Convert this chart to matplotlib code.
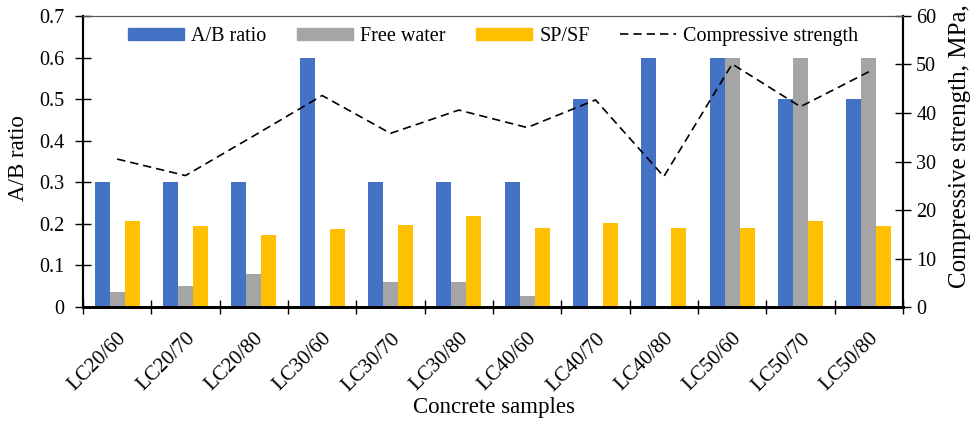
import numpy as np
import matplotlib.pyplot as plt
from matplotlib.lines import Line2D
from matplotlib.patches import Patch

plt.rcParams['font.family'] = ['Liberation Serif', 'DejaVu Serif']

# valeurs
echantillons = ["LC20/60", "LC20/70", "LC20/80", "LC30/60", "LC30/70", "LC30/80",
                "LC40/60", "LC40/70", "LC40/80", "LC50/60", "LC50/70", "LC50/80"]
ratio_ab = [0.3, 0.3, 0.3, 0.6, 0.3, 0.3, 0.3, 0.5, 0.6, 0.6, 0.5, 0.5]
eau_libre = [0.037, 0.051, 0.079, 0.0, 0.061, 0.061, 0.026, 0.0, 0.0, 0.6, 0.6, 0.6]
sp_sf = [0.208, 0.195, 0.173, 0.188, 0.197, 0.219, 0.189, 0.203, 0.189, 0.189, 0.208, 0.195]
resistance = [30.5, 27.1, 35.3, 43.6, 35.8, 40.6, 37.0, 42.7, 26.9, 50.1, 41.3, 48.5]

bleu = "#4472C4"
gris = "#A5A5A5"
jaune = "#FFC000"
tirets = (0, (5, 3))

fig = plt.figure(figsize=(9.72, 4.25), dpi=100)
ax = fig.add_axes([0.0854, 0.2776, 0.8436, 0.6848])
ax2 = ax.twinx()

x = np.arange(len(echantillons))
w = 0.22
ax.bar(x - w, ratio_ab, w, color=bleu)
ax.bar(x, eau_libre, w, color=gris)
ax.bar(x + w, sp_sf, w, color=jaune)
ax2.plot(x, resistance, color="black", linestyle=tirets, linewidth=1.2)

ax.set_xlim(-0.5, len(echantillons) - 0.5)
ax.set_ylim(0, 0.7)
ax2.set_ylim(0, 60)
ax.set_yticks(np.arange(0, 0.71, 0.1))
ax.set_yticklabels(["0"] + ["%.1f" % v for v in np.arange(0.1, 0.71, 0.1)])
ax2.set_yticks(np.arange(0, 61, 10))

ax.set_xticks(x)
ax.set_xticklabels(echantillons, rotation=45, ha="right", rotation_mode="anchor")
ax.set_xticks(np.arange(-0.5, len(echantillons), 1), minor=True)
ax.tick_params(axis="x", which="major", length=0, pad=16, labelsize=15)
ax.tick_params(axis="x", which="minor", direction="inout", length=10, width=1)
ax.tick_params(axis="y", direction="inout", length=11, width=1, labelsize=14.5, pad=8)
ax2.tick_params(axis="y", direction="inout", length=11, width=1, labelsize=14.5, pad=4)

for a in (ax, ax2):
    a.spines["top"].set_color("#555555")
    a.spines["top"].set_linewidth(0.8)
    a.spines["bottom"].set_linewidth(2)
    a.spines["left"].set_linewidth(1.5)
    a.spines["right"].set_linewidth(1.5)

fig.text(0.0195, 1 - 158 / 425, "A/B ratio", rotation=90, ha="center", va="center", fontsize=16.5)
fig.text(0.508, 1 - 408 / 425, "Concrete samples", ha="center", va="center", fontsize=16.5)
fig.text(0.9875, 1 - 288 / 425, "Compressive strength, MPa,", rotation=90,
         ha="center", va="bottom", fontsize=18)

poignees = [Patch(color=bleu), Patch(color=gris), Patch(color=jaune),
            Line2D([0], [0], color="black", linestyle=tirets, linewidth=1.2)]
ax.legend(poignees, ["A/B ratio", "Free water", "SP/SF", "Compressive strength"],
          loc="upper center", ncol=4, frameon=False, fontsize=14.5,
          handlelength=2.8, handleheight=0.55, handletextpad=0.35, columnspacing=1.5,
          bbox_to_anchor=(0.5, 1.025))

fig.savefig("out.png", dpi=100)
